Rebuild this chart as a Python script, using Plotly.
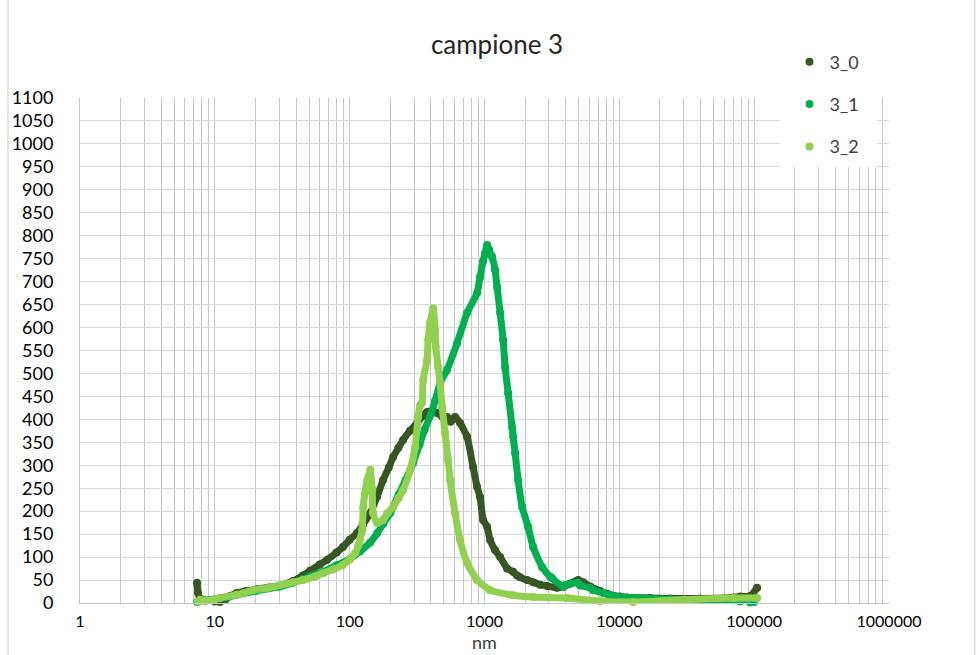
import plotly.graph_objects as go

# ---- data: particle size (nm) vs. signal for the three runs of sample 3 ----
nm_3_0 = [7.38, 7.5, 7.77, 8.5, 10, 10.9, 12, 13, 14.6, 17, 20.6, 25, 30.5, 38, 45, 50.8, 60, 68,
          80, 89, 100, 113, 125, 142, 160, 177, 195, 210, 230, 249, 280, 316, 350, 375, 410, 445,
          490, 528, 560, 605, 659, 743, 823, 881, 927, 977, 1045, 1101, 1199, 1306, 1472, 1630,
          1746, 1837, 2071, 2300, 2585, 2914, 3455, 3828, 4300, 4948, 5400, 6069, 7207, 8116,
          10140, 11430, 16920, 23800, 39720, 69800, 78700, 93300, 105200]
val_3_0 = [44, 22, 10, 5, 3, 2, 8, 15, 22, 26, 30, 34, 38, 48, 60, 70, 84, 94,
           110, 122, 138, 152, 170, 196, 232, 268, 295, 318, 338, 355, 375, 392, 408, 416, 418, 414,
           405, 405, 395, 405, 392, 362, 296, 253, 231, 181, 166, 137, 115, 100, 75, 68,
           60, 56, 50, 45, 40, 37, 33, 35, 42, 50, 45, 36, 26, 20,
           14, 12, 11, 10, 10, 12, 14, 15, 33]

nm_3_1 = [7.38, 7.77, 8.46, 10, 12, 14.6, 20, 30.5, 38, 45, 50.8, 63.5, 80, 100, 119, 142, 160,
          177, 200, 230, 260, 295, 330, 360, 402, 430, 470, 528, 626, 743, 881, 927, 977, 1010,
          1045, 1080, 1138, 1199, 1241, 1306, 1375, 1422, 1497, 1603, 1630, 1687, 1775, 1901,
          2105, 2294, 2675, 3066, 3171, 3828, 3962, 4948, 5120, 6069, 6393, 7586, 8550, 10140,
          13550, 16920, 23800, 39720, 69800, 78700, 93300, 100000]
val_3_1 = [2, 5, 6, 8, 12, 18, 26, 36, 44, 52, 58, 68, 82, 96, 112, 132, 152,
           172, 196, 235, 268, 305, 345, 378, 412, 440, 480, 508, 566, 632, 675, 710, 745, 762,
           780, 770, 754, 725, 688, 632, 573, 514, 457, 383, 362, 327, 268, 209,
           166, 122, 78, 57, 54, 35, 39, 44, 38, 33, 28, 22, 17, 13,
           11, 10, 8, 7, 6, 3, 1, 2]

nm_3_2 = [7.5, 7.77, 8.46, 10, 10.9, 14.6, 19.2, 25, 30.5, 38, 45, 55, 63.5, 75, 89, 100, 110,
          116, 119, 124, 126, 130, 135, 142, 147, 149, 160, 177, 190, 210, 230, 249, 281, 306,
          322, 333, 344, 351, 375, 382, 395, 416, 430, 435, 453, 469, 485, 510, 537, 556, 605,
          659, 743, 881, 1101, 1630, 2294, 4101, 7207, 12650, 29720, 69800, 105200]
val_3_2 = [3, 7, 5, 8, 11, 18, 28, 33, 39, 45, 50, 57, 65, 73, 83, 95, 109,
           125, 137, 159, 209, 240, 268, 290, 246, 196, 174, 181, 195, 209, 228, 246, 290, 340,
           405, 431, 436, 486, 529, 573, 610, 642, 595, 558, 514, 479, 427, 370, 312, 268, 196,
           137, 87, 50, 28, 17, 13, 11, 4, 2, 7, 11, 11]

series = [
    ("3_0", nm_3_0, val_3_0, "#375623"),
    ("3_1", nm_3_1, val_3_1, "#00B050"),
    ("3_2", nm_3_2, val_3_2, "#92D050"),
]

# log-axis gridlines at every 1..9 x 10^k, labels on the decades only
decades = [1, 10, 100, 1000, 10000, 100000, 1000000]
grid_vals = [m * d for d in decades[:-1] for m in range(1, 10)] + [decades[-1]]
grid_text = [str(v) if v in decades else "" for v in grid_vals]

FONT = "Lato"
fig = go.Figure()

for name, xs, ys, color in series:
    fig.add_trace(go.Scatter(
        x=xs, y=ys, mode="lines+markers", name=name, legendgroup=name, showlegend=False,
        line=dict(color=color, width=7, shape="spline", smoothing=0.5),
        marker=dict(color=color, size=8), cliponaxis=False, hoverinfo="x+y+name",
    ))
    # marker-only entry for the legend
    fig.add_trace(go.Scatter(
        x=[None], y=[None], mode="markers", name=name, legendgroup=name,
        marker=dict(color=color, size=8),
    ))

fig.update_layout(
    width=978, height=655,
    margin=dict(l=80, r=89, t=98, b=52),
    paper_bgcolor="white", plot_bgcolor="white",
    font=dict(family=FONT, color="#404040"),
    title=dict(text="campione 3", x=497 / 978, xref="container", xanchor="center",
               y=1 - 45 / 655, yref="container", yanchor="middle",
               font=dict(family=FONT, size=26, color="#262626")),
    legend=dict(x=0.877, y=1.108, xanchor="left", yanchor="top", bgcolor="rgba(0,0,0,0)",
                font=dict(family=FONT, size=18, color="#404040"), tracegroupgap=16,
                itemwidth=30),
    showlegend=True,
    annotations=[
        # x-axis title
        dict(text="nm", xref="paper", yref="paper", x=0.5, y=(603 - 642) / 505,
             xanchor="center", yanchor="middle", showarrow=False, borderpad=0,
             font=dict(family=FONT, size=18, color="#404040")),
    ],
    shapes=[
        # white panel behind the legend
        dict(type="rect", xref="paper", yref="paper", x0=0.865, x1=0.985, y0=0.863, y1=1.115,
             fillcolor="white", line=dict(width=0), layer="above"),
        # chart-area border
        dict(type="rect", xref="paper", yref="paper", x0=-0.089, x1=1.106, y0=-0.2, y1=1.25,
             fillcolor="rgba(0,0,0,0)", line=dict(color="#d0d0d0", width=1), layer="above"),
    ],
)

fig.update_xaxes(
    type="log", range=[0, 6], tickmode="array", tickvals=grid_vals, ticktext=grid_text,
    showgrid=True, gridcolor="#c6c6c6", gridwidth=1, ticks="", automargin=False,
    showline=True, linecolor="#c6c6c6", linewidth=1, zeroline=False,
    tickfont=dict(family=FONT, size=16, color="#000000"), ticklabelstandoff=4,
)
fig.update_yaxes(
    range=[0, 1100], dtick=50, tick0=0, showgrid=True, gridcolor="#d9d9d9", gridwidth=1,
    ticks="", showline=True, linecolor="#c6c6c6", linewidth=1, zeroline=False, automargin=False,
    tickfont=dict(family=FONT, size=18, color="#000000"), ticklabelstandoff=22,
)

fig.write_html("out.html")
